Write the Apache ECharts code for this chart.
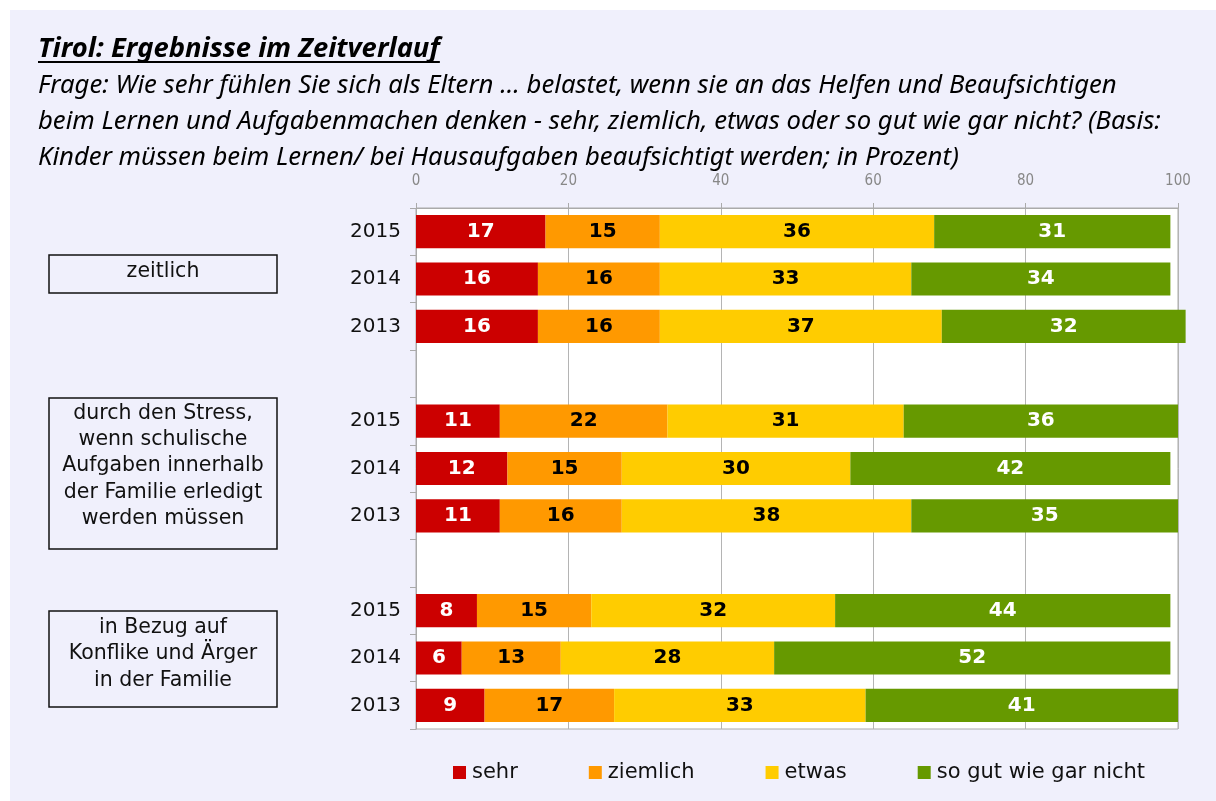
<!DOCTYPE html>
<html><head><meta charset="utf-8">
<script src="https://cdn.jsdelivr.net/npm/echarts@6/dist/echarts.min.js"></script>
<style>html,body{margin:0;padding:0;background:#fff}#c{width:1216px;height:801px}</style>
</head><body><div id="c"></div>
<script>
const rowLabels = ['2015','2014','2013','','2015','2014','2013','','2015','2014','2013'];
const seriesNames = ['sehr','ziemlich','etwas','so gut wie gar nicht'];
const sehr     = [17,16,16,null,11,12,11,null, 8, 6, 9];
const ziemlich = [15,16,16,null,22,15,16,null,15,13,17];
const etwas    = [36,33,37,null,31,30,38,null,32,28,33];
const garNicht = [31,34,32,null,36,42,35,null,44,52,41];
const xTicks = [0,20,40,60,80,100];
const titleText = 'Tirol: Ergebnisse im Zeitverlauf';
const subtitleLines = [
  'Frage: Wie sehr fühlen Sie sich als Eltern ... belastet, wenn sie an das Helfen und Beaufsichtigen',
  'beim Lernen und Aufgabenmachen denken - sehr, ziemlich, etwas oder so gut wie gar nicht? (Basis:',
  'Kinder müssen beim Lernen/ bei Hausaufgaben beaufsichtigt werden; in Prozent)'
];
const groupBoxLabels = [
  ['zeitlich'],
  ['durch den Stress,','wenn schulische','Aufgaben innerhalb','der Familie erledigt','werden müssen'],
  ['in Bezug auf','Konflike und Ärger','in der Familie']
];

const colors = ['#cc0000','#ff9900','#ffcc00','#669900'];
const labelColors = ['#ffffff','#000000','#000000','#ffffff'];
const FONT = '"DejaVu Sans",sans-serif';
const NFONT = '"DejaVu Sans Condensed","DejaVu Sans",sans-serif';
const TFONT = '"Noto Sans",sans-serif';
const categories = rowLabels.map((l,i)=>i+'|'+l);
const values = [sehr, ziemlich, etwas, garNicht];

// fit text fonts to the reference widths
const cv = document.createElement('canvas').getContext('2d');
function fitSize(text, style, target){
  cv.font = style + ' 100px ' + TFONT;
  return 100 * target / cv.measureText(text).width;
}
const titleSize = fitSize(titleText, 'italic bold', 402);
const subTargets = [1093, 1090, 932];
const subSize = subtitleLines.reduce((s,t,i)=>s+fitSize(t,'italic',subTargets[i]),0)/subtitleLines.length;
cv.font = 'italic bold ' + titleSize + 'px ' + TFONT;
const titleW = cv.measureText(titleText).width;

const boxes = [
  {x:49,y:255,w:228,h:38, cy:272},
  {x:49,y:398,w:228,h:151, cy:466},
  {x:49,y:611,w:228,h:96, cy:654}
];
const graphics = [
  {type:'rect', left:10, top:10, shape:{width:1206,height:791}, style:{fill:'#f0f0fc'}, z:-10, silent:true},
  {type:'text', x:38, y:49, style:{text:titleText, font:'italic bold '+titleSize.toFixed(1)+'px '+TFONT, fill:'#000', verticalAlign:'middle'}},
  {type:'line', shape:{x1:38,y1:62,x2:38+titleW,y2:62}, style:{stroke:'#000',lineWidth:2}}
];
subtitleLines.forEach((t,i)=>{
  graphics.push({type:'text', x:38, y:86+i*36, style:{text:t, font:'italic '+subSize.toFixed(1)+'px '+TFONT, fill:'#000', verticalAlign:'middle'}});
});
boxes.forEach((b,i)=>{
  graphics.push({type:'rect', shape:{x:b.x,y:b.y,width:b.w,height:b.h}, style:{fill:'none',stroke:'#111',lineWidth:1.5}});
  graphics.push({type:'text', x:b.x+b.w/2, y:b.cy, style:{text:groupBoxLabels[i].join('\n'), font:'20.5px '+FONT, fill:'#111', align:'center', verticalAlign:'middle', lineHeight:26.3}});
});

const chart = echarts.init(document.getElementById('c'), null, {renderer:'canvas'});
chart.setOption({
  backgroundColor:'#ffffff',
  animation:false,
  graphic: graphics,
  grid:{left:416, right:38, top:208, bottom:72, show:true, backgroundColor:'#ffffff', borderColor:'#aaaaaa', borderWidth:1},
  legend:{
    data: seriesNames, left:448, top:757, icon:'rect', itemWidth:13, itemHeight:13, itemGap:71,
    textStyle:{fontFamily:FONT, fontSize:21, color:'#111', padding:[0,0,0,1]}
  },
  xAxis:{
    type:'value', position:'top', min:xTicks[0], max:xTicks[xTicks.length-1], interval:20,
    axisLine:{show:true, lineStyle:{color:'#aaaaaa'}},
    axisTick:{show:true, inside:false, length:5, lineStyle:{color:'#aaaaaa'}},
    splitLine:{show:true, lineStyle:{color:'#b4b4b4', width:1}},
    axisLabel:{color:'#888888', fontFamily:NFONT, fontSize:15, margin:19}
  },
  yAxis:{
    type:'category', inverse:true, data:categories,
    axisLine:{show:true, lineStyle:{color:'#aaaaaa'}},
    axisTick:{show:true, inside:false, length:6, lineStyle:{color:'#aaaaaa'}},
    splitLine:{show:false},
    axisLabel:{color:'#111', fontFamily:FONT, fontSize:20, margin:15, padding:[4,0,0,0], formatter:v=>v.split('|')[1]}
  },
  series: seriesNames.map((n,i)=>({
    name:n, type:'bar', stack:'all', data:values[i], barWidth:'70%', clip:false,
    itemStyle:{color:colors[i]},
    label:{show:true, position:'inside', color:labelColors[i], fontFamily:FONT, fontWeight:'bold', fontSize:20}
  }))
});
</script></body></html>
